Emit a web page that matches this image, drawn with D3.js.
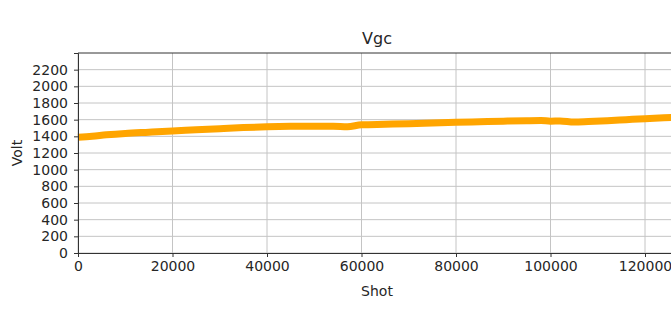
<!DOCTYPE html>
<html><head><meta charset="utf-8">
<script src="https://cdn.jsdelivr.net/npm/d3@7"></script>
<style>body{margin:0;background:#fff}svg{display:block}</style>
</head><body><svg id="c" width="671" height="322"></svg>
<script>
const shots = [0,3000,6000,10000,15000,20000,25000,30000,35000,40000,45000,50000,54000,57000,60000,65000,70000,75000,80000,85000,90000,95000,98000,100000,102000,105000,108000,112000,116000,120000,124000,127000];
const volts = [1390,1402,1418,1435,1450,1465,1478,1492,1505,1515,1520,1522,1522,1515,1538,1545,1552,1560,1568,1575,1582,1588,1590,1582,1585,1572,1578,1588,1600,1612,1622,1628];
const xTicks = [0,20000,40000,60000,80000,100000,120000];
const yTicks = [0,200,400,600,800,1000,1200,1400,1600,1800,2000,2200];
const title = "Vgc", xLabel = "Shot", yLabel = "Volt";

const svg = d3.select("#c");
const L = 78, T = 53, R = 676, B = 253;
const x = d3.scaleLinear().domain([0,126560]).range([L,R]);
const y = d3.scaleLinear().domain([0,2400]).range([B,T]);
const font = "'DejaVu Sans', sans-serif";

svg.append("g").selectAll("line").data(xTicks).join("line")
  .attr("x1",d=>x(d)).attr("x2",d=>x(d)).attr("y1",T).attr("y2",B)
  .attr("stroke","#c4c4c4").attr("stroke-width",1);
svg.append("g").selectAll("line").data(yTicks).join("line")
  .attr("x1",L).attr("x2",R).attr("y1",d=>y(d)).attr("y2",d=>y(d))
  .attr("stroke","#c4c4c4").attr("stroke-width",1);

const line = d3.line().x((d,i)=>x(shots[i])).y(d=>y(d)).curve(d3.curveMonotoneX);
svg.append("path").datum(volts).attr("d",line).attr("fill","none")
  .attr("stroke","#ffa500").attr("stroke-width",7).attr("stroke-linejoin","round");

const xa = svg.append("g").attr("transform",`translate(0,${B})`)
  .call(d3.axisBottom(x).tickValues(xTicks).tickFormat(d3.format("d")).tickSizeOuter(0).tickSize(4).tickPadding(4));
const ya = svg.append("g").attr("transform",`translate(${L},0)`)
  .call(d3.axisLeft(y).tickValues(yTicks).tickFormat(d3.format("d")).tickSizeOuter(0).tickSize(4).tickPadding(6));
[xa,ya].forEach(a=>{
  a.selectAll("text").attr("font-family",font).attr("font-size",14).attr("fill","#262626");
  a.selectAll("line").attr("stroke","#333");
  a.select(".domain").attr("stroke","#333");
});
svg.append("line").attr("x1",L).attr("x2",R).attr("y1",T).attr("y2",T).attr("stroke","#333");
svg.append("line").attr("x1",R).attr("x2",R).attr("y1",T).attr("y2",B).attr("stroke","#333");

svg.append("text").attr("x",(L+R)/2).attr("y",44).attr("text-anchor","middle")
  .attr("font-family",font).attr("font-size",16).attr("fill","#262626").text(title);
svg.append("text").attr("x",(L+R)/2).attr("y",296).attr("text-anchor","middle")
  .attr("font-family",font).attr("font-size",14).attr("fill","#262626").text(xLabel);
svg.append("text").attr("transform",`translate(22,${(T+B)/2}) rotate(-90)`).attr("text-anchor","middle")
  .attr("font-family",font).attr("font-size",14).attr("fill","#262626").text(yLabel);
</script></body></html>
